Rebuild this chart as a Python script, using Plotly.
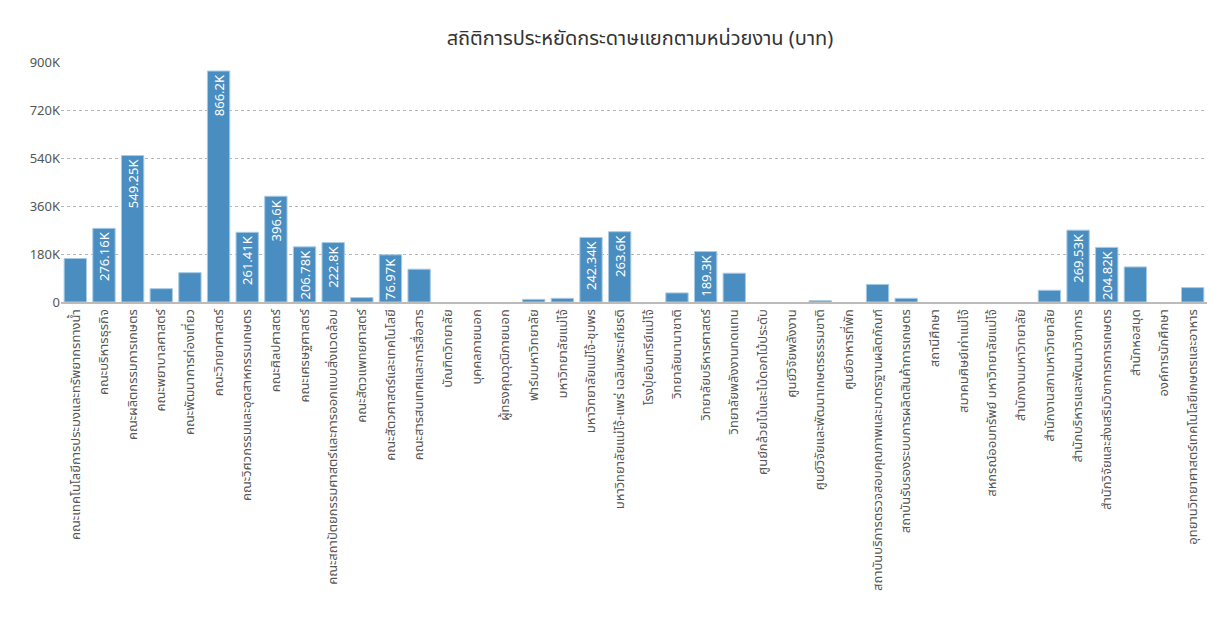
import plotly.graph_objects as go

categories = [
    "คณะเทคโนโลยีการประมงและทรัพยากรทางน้ำ",
    "คณะบริหารธุรกิจ",
    "คณะผลิตกรรมการเกษตร",
    "คณะพยาบาลศาสตร์",
    "คณะพัฒนาการท่องเที่ยว",
    "คณะวิทยาศาสตร์",
    "คณะวิศวกรรมและอุตสาหกรรมเกษตร",
    "คณะศิลปศาสตร์",
    "คณะเศรษฐศาสตร์",
    "คณะสถาปัตยกรรมศาสตร์และการออกแบบสิ่งแวดล้อม",
    "คณะสัตวแพทยศาสตร์",
    "คณะสัตวศาสตร์และเทคโนโลยี",
    "คณะสารสนเทศและการสื่อสาร",
    "บัณฑิตวิทยาลัย",
    "บุคคลภายนอก",
    "ผู้ทรงคุณวุฒิภายนอก",
    "ฟาร์มมหาวิทยาลัย",
    "มหาวิทยาลัยแม่โจ้",
    "มหาวิทยาลัยแม่โจ้-ชุมพร",
    "มหาวิทยาลัยแม่โจ้-แพร่ เฉลิมพระเกียรติ",
    "โรงปุ๋ยอินทรีย์แม่โจ้",
    "วิทยาลัยนานาชาติ",
    "วิทยาลัยบริหารศาสตร์",
    "วิทยาลัยพลังงานทดแทน",
    "ศูนย์กล้วยไม้และไม้ดอกไม้ประดับ",
    "ศูนย์วิจัยพลังงาน",
    "ศูนย์วิจัยและพัฒนาเกษตรธรรมชาติ",
    "ศูนย์อาหารที่พัก",
    "สถาบันบริการตรวจสอบคุณภาพและมาตรฐานผลิตภัณฑ์",
    "สถาบันรับรองระบบการผลิตสินค้าการเกษตร",
    "สถานีศึกษา",
    "สมาคมศิษย์เก่าแม่โจ้",
    "สหกรณ์ออมทรัพย์ มหาวิทยาลัยแม่โจ้",
    "สำนักงานมหาวิทยาลัย",
    "สำนักงานสภามหาวิทยาลัย",
    "สำนักบริหารและพัฒนาวิชาการ",
    "สำนักวิจัยและส่งเสริมวิชาการการเกษตร",
    "สำนักหอสมุด",
    "องค์การนักศึกษา",
    "อุทยานวิทยาศาสตร์เทคโนโลยีเกษตรและอาหาร",
]

values = [
    163000, 276160, 549250, 50000, 110000, 866200, 261410, 396600, 206780, 222800,
    16500, 176970, 123000, 0, 0, 0, 10000, 13800, 242340, 263600,
    0, 34000, 189300, 108000, 0, 0, 5000, 0, 66000, 14000,
    0, 0, 0, 0, 44000, 269530, 204820, 131500, 0, 54000,
]

y_ticks = [0, 180000, 360000, 540000, 720000, 900000]
y_tick_text = ["0", "180K", "360K", "540K", "720K", "900K"]

title_text = "สถิติการประหยัดกระดาษแยกตามหน่วยงาน (บาท)"
label_threshold = 170000


def fmt(v):
    s = f"{v / 1000:.2f}".rstrip("0").rstrip(".")
    return s + "K"


labels = [fmt(v) if v >= label_threshold else "" for v in values]
outline_widths = [1 if v > 0 else 0 for v in values]

font_family = "Noto Sans, Noto Sans Thai, DejaVu Sans, sans-serif"

fig = go.Figure(
    go.Bar(
        x=categories,
        y=values,
        text=labels,
        textposition="inside",
        insidetextanchor="end",
        textangle=-90,
        constraintext="none",
        cliponaxis=True,
        textfont=dict(color="white", size=13, family=font_family),
        marker=dict(color="#4a8ec1", line=dict(color="#a9cbe4", width=outline_widths)),
        hoverinfo="x+y",
    )
)

fig.update_layout(
    width=1212,
    height=631,
    paper_bgcolor="white",
    plot_bgcolor="white",
    margin=dict(l=61, r=5, t=62, b=329),
    bargap=0.22,
    showlegend=False,
    title=dict(
        text=title_text,
        x=0.528,
        xanchor="center",
        y=0.94,
        yanchor="middle",
        font=dict(size=20, color="#333333", family=font_family),
    ),
    font=dict(family=font_family),
)

fig.update_xaxes(
    tickangle=-90,
    tickfont=dict(size=13, color="#555555"),
    showgrid=False,
    showline=True,
    linecolor="#bbbbbb",
    linewidth=2,
    ticks="",
)

fig.update_yaxes(
    range=[0, 900000],
    tickvals=y_ticks,
    ticktext=y_tick_text,
    tickfont=dict(size=13, color="#555555"),
    showgrid=True,
    gridcolor="#b5b5b5",
    griddash="dot",
    gridwidth=1,
    zeroline=False,
    showline=False,
    ticks="",
)

fig.write_html("out.html")
